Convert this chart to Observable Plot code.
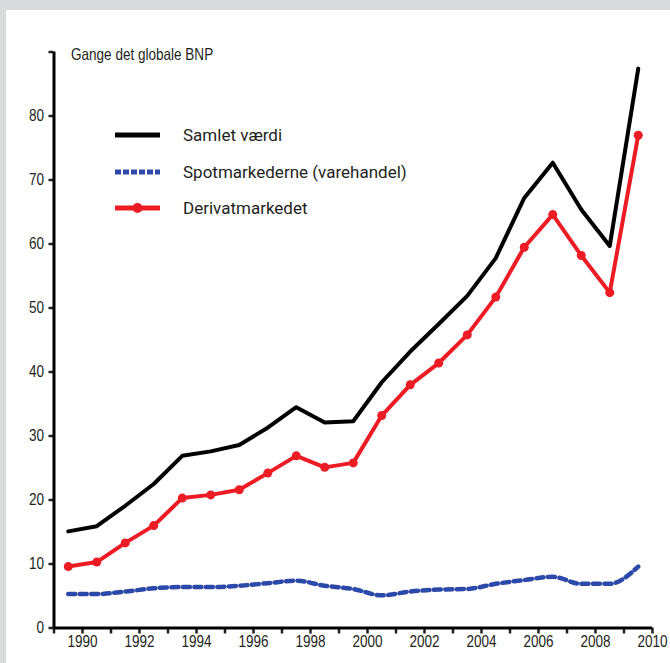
<!DOCTYPE html>
<html>
<head>
<meta charset="utf-8">
<script src="https://cdn.jsdelivr.net/npm/d3@7"></script>
<script src="https://cdn.jsdelivr.net/npm/@observablehq/plot@0.6"></script>
<style>
  html, body { margin: 0; padding: 0; }
  body { background: #d9dadc; width: 670px; height: 663px; overflow: hidden; position: relative; }
  #panel { position: absolute; left: 6px; top: 10px; width: 664px; height: 653px; background: #fff; }
  #chart { position: absolute; left: 0; top: 0; }
  #ylabel { position: absolute; left: 65px; top: 35px; font-family: "Liberation Sans", Arial, sans-serif; font-size: 16.5px; color: #231f20; transform: scaleX(0.82); transform-origin: 0 0; white-space: nowrap; }
  .leg { position: absolute; left: 109px; height: 20px; display: flex; align-items: center; font-family: Roboto, sans-serif; font-size: 17px; color: #231f20; }
  .leg svg { margin-right: 23px; }
</style>
</head>
<body>
<div id="panel">
  <div id="chart"></div>
  <div id="ylabel">Gange det globale BNP</div>
</div>
<script>
// Data (years are plotted at mid-year)
const years = [1989, 1990, 1991, 1992, 1993, 1994, 1995, 1996, 1997, 1998, 1999, 2000, 2001, 2002, 2003, 2004, 2005, 2006, 2007, 2008, 2009];
const samletVaerdi = [15.1, 15.9, 19.1, 22.5, 26.9, 27.6, 28.6, 31.3, 34.5, 32.1, 32.3, 38.4, 43.2, 47.5, 51.9, 57.8, 67.2, 72.7, 65.4, 59.7, 87.4];
const spotmarkederne = [5.3, 5.3, 5.7, 6.2, 6.4, 6.4, 6.6, 7.0, 7.4, 6.6, 6.1, 5.1, 5.7, 6.0, 6.1, 6.9, 7.5, 8.0, 6.9, 6.9, 9.6];
const derivatmarkedet = [9.6, 10.3, 13.3, 16.0, 20.3, 20.8, 21.6, 24.2, 26.9, 25.1, 25.8, 33.2, 38.0, 41.4, 45.8, 51.7, 59.5, 64.6, 58.2, 52.4, 77.0];
const xTicks = [1989, 1990, 1991, 1992, 1993, 1994, 1995, 1996, 1997, 1998, 1999, 2000, 2001, 2002, 2003, 2004, 2005, 2006, 2007, 2008, 2009, 2010];
const xLabels = [1990, 1992, 1994, 1996, 1998, 2000, 2002, 2004, 2006, 2008, 2010];
const yTicks = [0, 10, 20, 30, 40, 50, 60, 70, 80, 90];
const seriesNames = ["Samlet værdi", "Spotmarkederne (varehandel)", "Derivatmarkedet"];
const colors = { total: "#000000", spot: "#2b49a9", deriv: "#ec1c24" };

const data = years.map((y, i) => ({
  x: y + 0.5,
  total: samletVaerdi[i],
  spot: spotmarkederne[i],
  deriv: derivatmarkedet[i]
}));

const chart = Plot.plot({
  width: 664,
  height: 653,
  marginLeft: 47.5,
  marginRight: 18,
  marginTop: 41.5,
  marginBottom: 35.5,
  style: { fontFamily: '"Liberation Sans", Arial, sans-serif', fontSize: "16.5px", color: "#231f20", background: "transparent" },
  x: { type: "linear", domain: [1989, 2010] },
  y: { domain: [0, 90] },
  marks: [
    Plot.axisY({ ticks: yTicks, tickSize: 5, tickPadding: 5, strokeWidth: 2.5, tickFormat: d => d === 90 ? "" : String(d), label: null, fontSize: 16.5 }),
    Plot.axisX({ ticks: xTicks, tickSize: 6, strokeWidth: 2.5, tickFormat: () => "", label: null }),
    Plot.axisX({ ticks: xLabels, tickSize: 0, tickPadding: 7, tickFormat: d => String(d), label: null, fontSize: 16.5 }),
    Plot.ruleX([1989], { strokeWidth: 3, stroke: "#000" }),
    Plot.ruleY([0], { strokeWidth: 3, stroke: "#000" }),
    Plot.line(data, { x: "x", y: "total", stroke: colors.total, strokeWidth: 4 }),
    Plot.line(data, { x: "x", y: "spot", stroke: colors.spot, strokeWidth: 4.5, strokeDasharray: "7,4.5", curve: "monotone-x" }),
    Plot.line(data, { x: "x", y: "deriv", stroke: colors.deriv, strokeWidth: 4 }),
    Plot.dot(data, { x: "x", y: "deriv", fill: colors.deriv, r: 4.5 })
  ]
});
// condensed look for the axis labels (no narrow font installed)
chart.querySelectorAll("text").forEach(t => {
  const tr = t.getAttribute("transform") || "";
  t.setAttribute("transform", (tr + " scale(0.82,1)").trim());
});
document.getElementById("chart").appendChild(chart);

// Legend
const panel = document.getElementById("panel");
const legendRows = [
  { name: seriesNames[0], color: colors.total, dash: null, marker: false, top: 115 },
  { name: seriesNames[1], color: colors.spot, dash: "6,2", marker: false, top: 152 },
  { name: seriesNames[2], color: colors.deriv, dash: null, marker: true, top: 188 }
];
legendRows.forEach(r => {
  const div = document.createElement("div");
  div.className = "leg";
  div.style.top = (r.top) + "px";
  const ns = "http://www.w3.org/2000/svg";
  const svg = document.createElementNS(ns, "svg");
  svg.setAttribute("width", 45);
  svg.setAttribute("height", 20);
  const line = document.createElementNS(ns, "line");
  line.setAttribute("x1", 0); line.setAttribute("x2", 45);
  line.setAttribute("y1", 10); line.setAttribute("y2", 10);
  line.setAttribute("stroke", r.color);
  line.setAttribute("stroke-width", 5);
  if (r.dash) line.setAttribute("stroke-dasharray", r.dash);
  svg.appendChild(line);
  if (r.marker) {
    const c = document.createElementNS(ns, "circle");
    c.setAttribute("cx", 22.5); c.setAttribute("cy", 10); c.setAttribute("r", 5);
    c.setAttribute("fill", r.color);
    svg.appendChild(c);
  }
  div.appendChild(svg);
  const span = document.createElement("span");
  span.textContent = r.name;
  div.appendChild(span);
  panel.appendChild(div);
});
</script>
</body>
</html>
